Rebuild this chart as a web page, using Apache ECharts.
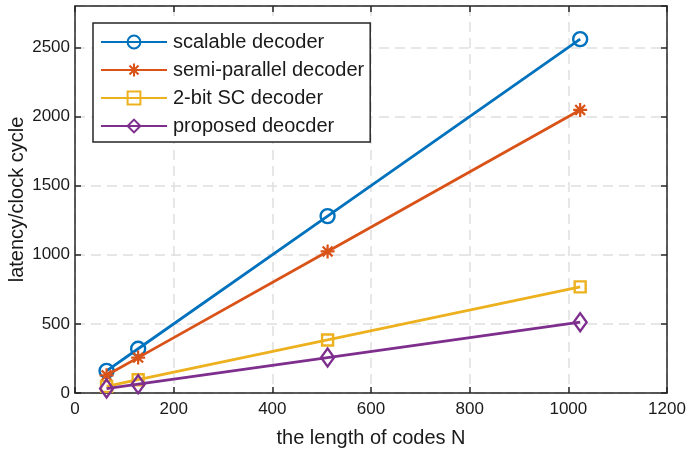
<!DOCTYPE html>
<html>
<head>
<meta charset="utf-8">
<script src="https://cdn.jsdelivr.net/npm/echarts@6/dist/echarts.min.js"></script>
<style>
  html, body { margin: 0; padding: 0; background: #fff; }
  #chart { width: 688px; height: 450px; }
</style>
</head>
<body>
<div id="chart"></div>
<script>
  // code lengths N
  const codeLengths = [64, 128, 512, 1024]
  const scalable = [160, 320, 1280, 2560]
  const semiParallel = [128, 256, 1024, 2048]
  const twoBitSC = [48, 96, 384, 768]
  const proposed = [32, 64, 256, 512]

  const seriesNames = ['scalable decoder', 'semi-parallel decoder', '2-bit SC decoder', 'proposed deocder']
  const colors = ['#0072BD', '#D95319', '#EDB120', '#7E2F8E']

  const axisColor = '#262626'
  const textColor = '#1a1a1a'
  const font = 'Liberation Sans, Arial, sans-serif'

  // asterisk marker, thick strokes so it reads like the MATLAB '*'
  const asterisk = 'path://M-1.6,-10 L1.6,-10 L1.6,10 L-1.6,10 Z M-10,-1.6 L10,-1.6 L10,1.6 L-10,1.6 Z ' +
    'M-5.9,-8.2 L8.2,5.9 L5.9,8.2 L-8.2,-5.9 Z M5.9,-8.2 L8.2,-5.9 L-5.9,8.2 L-8.2,5.9 Z'

  const toPairs = (vals) => codeLengths.map((n, i) => [n, vals[i]])

  const makeSeries = (idx, vals, symbol, size, filled) => ({
    name: seriesNames[idx],
    type: 'line',
    xAxisIndex: 0,
    yAxisIndex: 0,
    data: toPairs(vals),
    symbol: symbol,
    symbolSize: size,
    showAllSymbol: true,
    lineStyle: { color: colors[idx], width: 2.8 },
    itemStyle: filled
      ? { color: colors[idx], borderWidth: 0 }
      : { color: 'transparent', borderColor: colors[idx], borderWidth: 2.4 },
    emphasis: { disabled: true },
    z: 3 + idx
  })

  const plainNum = (v) => String(v)

  const boxAxis = {
    type: 'value',
    axisLine: { show: true, onZero: false, lineStyle: { color: axisColor, width: 1.5 } },
    axisTick: { show: true, inside: true, length: 6, lineStyle: { color: axisColor, width: 1.5 } },
    axisLabel: { show: false },
    splitLine: { show: false }
  }

  const chart = echarts.init(document.getElementById('chart'))

  const option = {
    animation: false,
    backgroundColor: '#fff',
    grid: { left: 75, right: 21, top: 6, bottom: 57, containLabel: false, outerBoundsMode: 'none' },
    legend: {
      left: 93,
      top: 23,
      orient: 'vertical',
      padding: [9, 6, 6, 7],
      itemWidth: 66,
      itemHeight: 16,
      itemGap: 8,
      borderColor: axisColor,
      borderWidth: 1.5,
      backgroundColor: '#fff',
      textStyle: { fontFamily: font, fontSize: 20, color: textColor, padding: [0, 0, 0, 1] },
      data: seriesNames
    },
    xAxis: [
      {
        type: 'value',
        min: 0,
        max: 1200,
        interval: 200,
        name: 'the length of codes N',
        nameLocation: 'middle',
        nameGap: 35,
        nameMoveOverlap: false,
        nameTextStyle: { fontFamily: font, fontSize: 20, color: textColor },
        axisLine: { show: true, onZero: false, lineStyle: { color: axisColor, width: 1.5 } },
        axisTick: { show: true, inside: true, length: 6, lineStyle: { color: axisColor, width: 1.5 } },
        axisLabel: { fontFamily: font, fontSize: 17, color: textColor, margin: 8, formatter: plainNum },
        splitLine: { show: true, lineStyle: { color: '#e0e0e0', width: 1.5, type: [10, 6] } }
      },
      Object.assign({}, boxAxis, { position: 'top', min: 0, max: 1200, interval: 200 })
    ],
    yAxis: [
      {
        type: 'value',
        min: 0,
        max: 2800,
        interval: 500,
        name: 'latency/clock cycle',
        nameLocation: 'middle',
        nameGap: 48,
        nameMoveOverlap: false,
        nameTextStyle: { fontFamily: font, fontSize: 20, color: textColor },
        axisLine: { show: true, onZero: false, lineStyle: { color: axisColor, width: 1.5 } },
        axisTick: { show: true, inside: true, length: 6, lineStyle: { color: axisColor, width: 1.5 } },
        axisLabel: { fontFamily: font, fontSize: 17, color: textColor, margin: 5, showMaxLabel: false, formatter: plainNum },
        splitLine: { show: true, lineStyle: { color: '#e0e0e0', width: 1.5, type: [10, 6] } }
      },
      Object.assign({}, boxAxis, { position: 'right', min: 0, max: 2800, interval: 500 })
    ],
    series: [
      makeSeries(0, scalable, 'circle', 14, false),
      makeSeries(1, semiParallel, asterisk, 14, true),
      makeSeries(2, twoBitSC, 'rect', 11, false),
      makeSeries(3, proposed, 'diamond', [13, 18], false)
    ]
  }

  chart.setOption(option)
</script>
</body>
</html>
